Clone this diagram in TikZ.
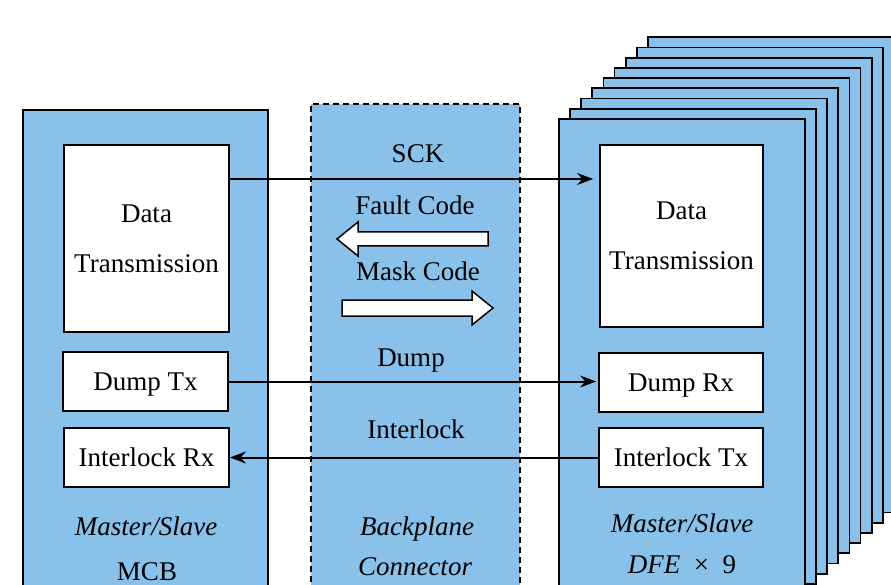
\documentclass[tikz,border=0pt]{standalone}
\usepackage{fontspec}
\setmainfont{LiberationSerif}[Extension=.ttf, UprightFont=*-Regular, ItalicFont=*-Italic, BoldFont=*-Bold, BoldItalicFont=*-BoldItalic]
\usetikzlibrary{arrows.meta}
\definecolor{panelblue}{RGB}{137,193,235}
\begin{document}
\begin{tikzpicture}[x=1pt,y=-1pt,
 panel/.style={draw=black, fill=panelblue, line width=1.8pt, rectangle, inner sep=0pt, outer sep=0pt, anchor=north west},
 inbox/.style={draw=black, fill=white, line width=1.8pt, rectangle, inner sep=0pt, align=center, text depth=0pt, font=\fontsize{27}{50}\selectfont},
 lbl/.style={font=\fontsize{27}{32}\selectfont, anchor=base, inner sep=0pt},
 conn/.style={line width=2pt, -{Stealth[length=16pt,width=12pt]}},
 hollow/.style={draw=black, fill=white, line width=1.5pt, line join=miter}]
\useasboundingbox (0,0) rectangle (891,585);
\clip (0,0) rectangle (891,585);
% DFE stack
\foreach \k in {8,7,...,0} {
  \node[panel, minimum width=246pt, minimum height=475pt] (dfe\k) at ({559+11.1*\k},{119-10.2*\k}) {};
}
% MCB panel and backplane
\node[panel, minimum width=245pt, minimum height=500pt] (mcb) at (23,110) {};
\node[panel, dash pattern=on 6pt off 4pt, minimum width=209pt, minimum height=500pt] (bp) at (311,104) {};
% inner boxes
\node[inbox, minimum width=165pt, minimum height=187pt] (ldata) at (146.5,238.5) {Data\\Transmission};
\node[inbox, minimum width=165pt, minimum height=59pt] (dumptx) at (145.5,381.5) {Dump Tx};
\node[inbox, minimum width=165pt, minimum height=59pt] (ilrx) at (146.5,457.5) {Interlock Rx};
\node[inbox, minimum width=163pt, minimum height=182pt] (rdata) at (681.5,236) {Data\\Transmission};
\node[inbox, minimum width=164pt, minimum height=59pt] (dumprx) at (681,382.5) {Dump Rx};
\node[inbox, minimum width=164pt, minimum height=59pt] (iltx) at (681,457.5) {Interlock Tx};
% labels
\node[lbl] (sck) at (418,163) {SCK};
\node[lbl] (fault) at (415,215) {Fault Code};
\node[lbl] (mask) at (418,280) {Mask Code};
\node[lbl] (dump) at (411,366) {Dump};
\node[lbl] (ilk) at (416,438) {Interlock};
\node[lbl] (ms1) at (146,535) {\itshape Master/Slave};
\node[lbl] (mcbl) at (147,580) {MCB};
\node[lbl] (bpl) at (417,535) {\itshape Backplane};
\node[lbl] (conl) at (415,575) {\itshape Connector};
\node[lbl] (ms2) at (682,532) {\itshape Master/Slave};
\node[lbl] (dfel) at (682,573) {\itshape DFE\/\upshape\ \ ×\ \ 9};
% connectors
\coordinate (sckrow) at (418,179);
\draw[conn, shorten >=6pt] (ldata.east |- sckrow) -- (rdata.west |- sckrow);
\draw[conn, shorten >=2pt] (dumptx.east) -- (dumptx.east -| dumprx.west);
\draw[conn] (iltx.west) -- (iltx.west -| ilrx.east);
% hollow arrows
\draw[hollow] (337,239) -- (358,222) -- (358,232) -- (488,232) -- (488,246) -- (358,246) -- (358,256) -- cycle;
\draw[hollow] (493,308) -- (472,291) -- (472,300) -- (342,300) -- (342,316) -- (472,316) -- (472,325) -- cycle;
\end{tikzpicture}
\end{document}
